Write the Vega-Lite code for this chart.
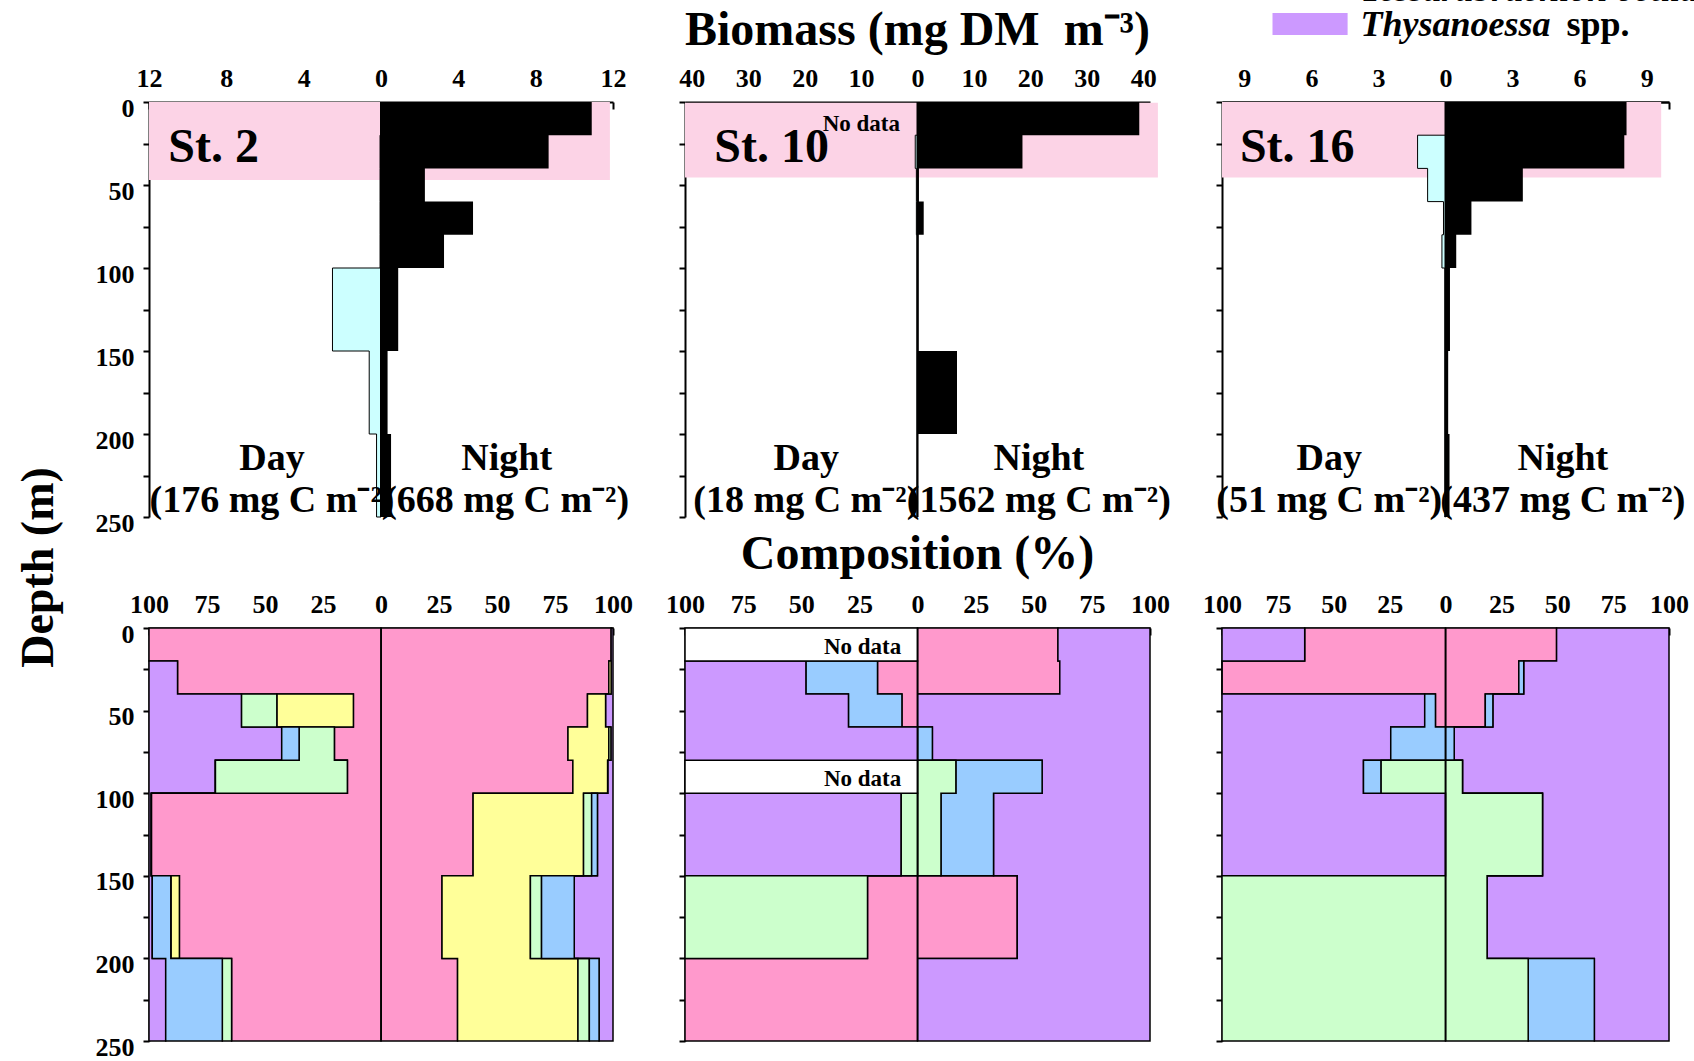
{
"$schema": "https://vega.github.io/schema/vega-lite/v6.json",
"background": "white",
"padding": {"left": 15, "top": -28, "right": 5, "bottom": 5},
"config": {
  "view": {"stroke": null},
  "font": "Liberation Serif",
  "axis": {"labelFont": "Liberation Serif", "labelFontWeight": "bold", "labelFontSize": 26, "labelColor": "black", "domainColor": "black", "domainWidth": 2, "tickColor": "black", "tickWidth": 2, "grid": false, "labelFlush": false, "labelOverlap": false, "labelBound": false, "titleFont": "Liberation Serif", "titleFontWeight": "bold", "titleColor": "black"},
  "axisX": {"tickSize": -7, "labelPadding": 18},
  "axisY": {"tickSize": 6, "labelPadding": 9, "labelOffset": 6},
  "title": {"font": "Liberation Serif", "fontSize": 48, "fontWeight": "bold", "color": "black", "offset": 10, "anchor": "middle"},
  "text": {"font": "Liberation Serif", "fontWeight": "bold", "color": "black"}
},
"datasets": {
  "biomass": [
    {"station": "St. 2", "period": "Night", "top": 0, "bottom": 20, "biomass": 10.9},
    {"station": "St. 2", "period": "Night", "top": 20, "bottom": 40, "biomass": 8.67},
    {"station": "St. 2", "period": "Night", "top": 40, "bottom": 60, "biomass": 2.27},
    {"station": "St. 2", "period": "Night", "top": 60, "bottom": 80, "biomass": 4.76},
    {"station": "St. 2", "period": "Night", "top": 80, "bottom": 100, "biomass": 3.26},
    {"station": "St. 2", "period": "Night", "top": 100, "bottom": 150, "biomass": 0.89},
    {"station": "St. 2", "period": "Night", "top": 150, "bottom": 200, "biomass": 0.34},
    {"station": "St. 2", "period": "Night", "top": 200, "bottom": 250, "biomass": 0.52},
    {"station": "St. 2", "period": "Day", "top": 20, "bottom": 40, "biomass": 0.05},
    {"station": "St. 2", "period": "Day", "top": 40, "bottom": 60, "biomass": 0.05},
    {"station": "St. 2", "period": "Day", "top": 60, "bottom": 80, "biomass": 0.05},
    {"station": "St. 2", "period": "Day", "top": 80, "bottom": 100, "biomass": 0.05},
    {"station": "St. 2", "period": "Day", "top": 100, "bottom": 150, "biomass": 2.51},
    {"station": "St. 2", "period": "Day", "top": 150, "bottom": 200, "biomass": 0.61},
    {"station": "St. 2", "period": "Day", "top": 200, "bottom": 250, "biomass": 0.23},
    {"station": "St. 10", "period": "Night", "top": 0, "bottom": 20, "biomass": 39.3},
    {"station": "St. 10", "period": "Night", "top": 20, "bottom": 40, "biomass": 18.6},
    {"station": "St. 10", "period": "Night", "top": 40, "bottom": 60, "biomass": 0.25},
    {"station": "St. 10", "period": "Night", "top": 60, "bottom": 80, "biomass": 1.1},
    {"station": "St. 10", "period": "Night", "top": 80, "bottom": 100, "biomass": 0.2},
    {"station": "St. 10", "period": "Night", "top": 100, "bottom": 150, "biomass": 0.2},
    {"station": "St. 10", "period": "Night", "top": 150, "bottom": 200, "biomass": 7.0},
    {"station": "St. 10", "period": "Night", "top": 200, "bottom": 250, "biomass": 0.1},
    {"station": "St. 10", "period": "Day", "top": 20, "bottom": 40, "biomass": 0.4},
    {"station": "St. 10", "period": "Day", "top": 40, "bottom": 60, "biomass": 0.2},
    {"station": "St. 10", "period": "Day", "top": 60, "bottom": 80, "biomass": 0.2},
    {"station": "St. 10", "period": "Day", "top": 80, "bottom": 100, "biomass": 0.1},
    {"station": "St. 10", "period": "Day", "top": 100, "bottom": 150, "biomass": 0.1},
    {"station": "St. 10", "period": "Day", "top": 150, "bottom": 200, "biomass": 0.1},
    {"station": "St. 10", "period": "Day", "top": 200, "bottom": 250, "biomass": 0.1},
    {"station": "St. 16", "period": "Night", "top": 0, "bottom": 20, "biomass": 8.1},
    {"station": "St. 16", "period": "Night", "top": 20, "bottom": 40, "biomass": 8.0},
    {"station": "St. 16", "period": "Night", "top": 40, "bottom": 60, "biomass": 3.46},
    {"station": "St. 16", "period": "Night", "top": 60, "bottom": 80, "biomass": 1.16},
    {"station": "St. 16", "period": "Night", "top": 80, "bottom": 100, "biomass": 0.48},
    {"station": "St. 16", "period": "Night", "top": 100, "bottom": 150, "biomass": 0.2},
    {"station": "St. 16", "period": "Night", "top": 150, "bottom": 200, "biomass": 0.12},
    {"station": "St. 16", "period": "Night", "top": 200, "bottom": 250, "biomass": 0.18},
    {"station": "St. 16", "period": "Day", "top": 20, "bottom": 40, "biomass": 1.25},
    {"station": "St. 16", "period": "Day", "top": 40, "bottom": 60, "biomass": 0.8},
    {"station": "St. 16", "period": "Day", "top": 60, "bottom": 80, "biomass": 0.09},
    {"station": "St. 16", "period": "Day", "top": 80, "bottom": 100, "biomass": 0.16},
    {"station": "St. 16", "period": "Day", "top": 100, "bottom": 150, "biomass": 0.03},
    {"station": "St. 16", "period": "Day", "top": 150, "bottom": 200, "biomass": 0.03},
    {"station": "St. 16", "period": "Day", "top": 200, "bottom": 250, "biomass": 0.03}
  ],
  "nodata": [
    {"station": "St. 10", "period": "Day", "panel": "Biomass", "top": 0, "bottom": 20},
    {"station": "St. 10", "period": "Day", "panel": "Composition", "top": 0, "bottom": 20},
    {"station": "St. 10", "period": "Day", "panel": "Composition", "top": 80, "bottom": 100}
  ],
  "comp": [
    {"station": "St. 2", "period": "Day", "top": 0, "bottom": 20, "taxon": "Taxon A", "pct": 100},
    {"station": "St. 2", "period": "Day", "top": 20, "bottom": 40, "taxon": "Taxon A", "pct": 87.7},
    {"station": "St. 2", "period": "Day", "top": 20, "bottom": 40, "taxon": "Thysanoessa spp.", "pct": 12.3},
    {"station": "St. 2", "period": "Day", "top": 40, "bottom": 60, "taxon": "Taxon A", "pct": 11.9},
    {"station": "St. 2", "period": "Day", "top": 40, "bottom": 60, "taxon": "Taxon B", "pct": 33.0},
    {"station": "St. 2", "period": "Day", "top": 40, "bottom": 60, "taxon": "Taxon C", "pct": 15.2},
    {"station": "St. 2", "period": "Day", "top": 40, "bottom": 60, "taxon": "Thysanoessa spp.", "pct": 39.9},
    {"station": "St. 2", "period": "Day", "top": 60, "bottom": 80, "taxon": "Taxon A", "pct": 20.1},
    {"station": "St. 2", "period": "Day", "top": 60, "bottom": 80, "taxon": "Taxon B", "pct": 0},
    {"station": "St. 2", "period": "Day", "top": 60, "bottom": 80, "taxon": "Taxon C", "pct": 15.2},
    {"station": "St. 2", "period": "Day", "top": 60, "bottom": 80, "taxon": "Tessarabrachion oculatum", "pct": 7.5},
    {"station": "St. 2", "period": "Day", "top": 60, "bottom": 80, "taxon": "Thysanoessa spp.", "pct": 57.2},
    {"station": "St. 2", "period": "Day", "top": 80, "bottom": 100, "taxon": "Taxon A", "pct": 14.5},
    {"station": "St. 2", "period": "Day", "top": 80, "bottom": 100, "taxon": "Taxon B", "pct": 0},
    {"station": "St. 2", "period": "Day", "top": 80, "bottom": 100, "taxon": "Taxon C", "pct": 56.9},
    {"station": "St. 2", "period": "Day", "top": 80, "bottom": 100, "taxon": "Tessarabrachion oculatum", "pct": 0},
    {"station": "St. 2", "period": "Day", "top": 80, "bottom": 100, "taxon": "Thysanoessa spp.", "pct": 28.6},
    {"station": "St. 2", "period": "Day", "top": 100, "bottom": 150, "taxon": "Taxon A", "pct": 99},
    {"station": "St. 2", "period": "Day", "top": 100, "bottom": 150, "taxon": "Taxon B", "pct": 0},
    {"station": "St. 2", "period": "Day", "top": 100, "bottom": 150, "taxon": "Taxon C", "pct": 0},
    {"station": "St. 2", "period": "Day", "top": 100, "bottom": 150, "taxon": "Tessarabrachion oculatum", "pct": 0},
    {"station": "St. 2", "period": "Day", "top": 100, "bottom": 150, "taxon": "Thysanoessa spp.", "pct": 1},
    {"station": "St. 2", "period": "Day", "top": 150, "bottom": 200, "taxon": "Taxon A", "pct": 86.9},
    {"station": "St. 2", "period": "Day", "top": 150, "bottom": 200, "taxon": "Taxon B", "pct": 3.7},
    {"station": "St. 2", "period": "Day", "top": 150, "bottom": 200, "taxon": "Taxon C", "pct": 0},
    {"station": "St. 2", "period": "Day", "top": 150, "bottom": 200, "taxon": "Tessarabrachion oculatum", "pct": 8.0},
    {"station": "St. 2", "period": "Day", "top": 150, "bottom": 200, "taxon": "Thysanoessa spp.", "pct": 1.4},
    {"station": "St. 2", "period": "Day", "top": 200, "bottom": 250, "taxon": "Taxon A", "pct": 64.4},
    {"station": "St. 2", "period": "Day", "top": 200, "bottom": 250, "taxon": "Taxon C", "pct": 4.0},
    {"station": "St. 2", "period": "Day", "top": 200, "bottom": 250, "taxon": "Tessarabrachion oculatum", "pct": 24.4},
    {"station": "St. 2", "period": "Day", "top": 200, "bottom": 250, "taxon": "Thysanoessa spp.", "pct": 7.2},
    {"station": "St. 2", "period": "Night", "top": 0, "bottom": 20, "taxon": "Taxon A", "pct": 99.2},
    {"station": "St. 2", "period": "Night", "top": 0, "bottom": 20, "taxon": "Thysanoessa spp.", "pct": 0.8},
    {"station": "St. 2", "period": "Night", "top": 20, "bottom": 40, "taxon": "Taxon A", "pct": 98.2},
    {"station": "St. 2", "period": "Night", "top": 20, "bottom": 40, "taxon": "Taxon B", "pct": 1.0},
    {"station": "St. 2", "period": "Night", "top": 20, "bottom": 40, "taxon": "Thysanoessa spp.", "pct": 0.8},
    {"station": "St. 2", "period": "Night", "top": 40, "bottom": 60, "taxon": "Taxon A", "pct": 89.0},
    {"station": "St. 2", "period": "Night", "top": 40, "bottom": 60, "taxon": "Taxon B", "pct": 7.8},
    {"station": "St. 2", "period": "Night", "top": 40, "bottom": 60, "taxon": "Thysanoessa spp.", "pct": 3.2},
    {"station": "St. 2", "period": "Night", "top": 60, "bottom": 80, "taxon": "Taxon A", "pct": 80.6},
    {"station": "St. 2", "period": "Night", "top": 60, "bottom": 80, "taxon": "Taxon B", "pct": 17.6},
    {"station": "St. 2", "period": "Night", "top": 60, "bottom": 80, "taxon": "Taxon C", "pct": 0.9},
    {"station": "St. 2", "period": "Night", "top": 60, "bottom": 80, "taxon": "Thysanoessa spp.", "pct": 0.9},
    {"station": "St. 2", "period": "Night", "top": 80, "bottom": 100, "taxon": "Taxon A", "pct": 82.7},
    {"station": "St. 2", "period": "Night", "top": 80, "bottom": 100, "taxon": "Taxon B", "pct": 15.0},
    {"station": "St. 2", "period": "Night", "top": 80, "bottom": 100, "taxon": "Taxon C", "pct": 0},
    {"station": "St. 2", "period": "Night", "top": 80, "bottom": 100, "taxon": "Thysanoessa spp.", "pct": 2.3},
    {"station": "St. 2", "period": "Night", "top": 100, "bottom": 150, "taxon": "Taxon A", "pct": 39.7},
    {"station": "St. 2", "period": "Night", "top": 100, "bottom": 150, "taxon": "Taxon B", "pct": 47.6},
    {"station": "St. 2", "period": "Night", "top": 100, "bottom": 150, "taxon": "Taxon C", "pct": 3.5},
    {"station": "St. 2", "period": "Night", "top": 100, "bottom": 150, "taxon": "Tessarabrachion oculatum", "pct": 2.5},
    {"station": "St. 2", "period": "Night", "top": 100, "bottom": 150, "taxon": "Thysanoessa spp.", "pct": 6.7},
    {"station": "St. 2", "period": "Night", "top": 150, "bottom": 200, "taxon": "Taxon A", "pct": 26.3},
    {"station": "St. 2", "period": "Night", "top": 150, "bottom": 200, "taxon": "Taxon B", "pct": 38.1},
    {"station": "St. 2", "period": "Night", "top": 150, "bottom": 200, "taxon": "Taxon C", "pct": 4.8},
    {"station": "St. 2", "period": "Night", "top": 150, "bottom": 200, "taxon": "Tessarabrachion oculatum", "pct": 14.1},
    {"station": "St. 2", "period": "Night", "top": 150, "bottom": 200, "taxon": "Thysanoessa spp.", "pct": 16.7},
    {"station": "St. 2", "period": "Night", "top": 200, "bottom": 250, "taxon": "Taxon A", "pct": 33.0},
    {"station": "St. 2", "period": "Night", "top": 200, "bottom": 250, "taxon": "Taxon B", "pct": 51.9},
    {"station": "St. 2", "period": "Night", "top": 200, "bottom": 250, "taxon": "Taxon C", "pct": 4.9},
    {"station": "St. 2", "period": "Night", "top": 200, "bottom": 250, "taxon": "Tessarabrachion oculatum", "pct": 4.2},
    {"station": "St. 2", "period": "Night", "top": 200, "bottom": 250, "taxon": "Thysanoessa spp.", "pct": 6.0},
    {"station": "St. 10", "period": "Day", "top": 20, "bottom": 40, "taxon": "Taxon A", "pct": 17.2},
    {"station": "St. 10", "period": "Day", "top": 20, "bottom": 40, "taxon": "Tessarabrachion oculatum", "pct": 30.8},
    {"station": "St. 10", "period": "Day", "top": 20, "bottom": 40, "taxon": "Thysanoessa spp.", "pct": 52.0},
    {"station": "St. 10", "period": "Day", "top": 40, "bottom": 60, "taxon": "Taxon A", "pct": 6.7},
    {"station": "St. 10", "period": "Day", "top": 40, "bottom": 60, "taxon": "Tessarabrachion oculatum", "pct": 23.0},
    {"station": "St. 10", "period": "Day", "top": 40, "bottom": 60, "taxon": "Thysanoessa spp.", "pct": 70.3},
    {"station": "St. 10", "period": "Day", "top": 60, "bottom": 80, "taxon": "Taxon A", "pct": 0},
    {"station": "St. 10", "period": "Day", "top": 60, "bottom": 80, "taxon": "Thysanoessa spp.", "pct": 100},
    {"station": "St. 10", "period": "Day", "top": 100, "bottom": 150, "taxon": "Taxon A", "pct": 0},
    {"station": "St. 10", "period": "Day", "top": 100, "bottom": 150, "taxon": "Taxon C", "pct": 7.0},
    {"station": "St. 10", "period": "Day", "top": 100, "bottom": 150, "taxon": "Thysanoessa spp.", "pct": 93.0},
    {"station": "St. 10", "period": "Day", "top": 150, "bottom": 200, "taxon": "Taxon A", "pct": 21.5},
    {"station": "St. 10", "period": "Day", "top": 150, "bottom": 200, "taxon": "Taxon C", "pct": 78.5},
    {"station": "St. 10", "period": "Day", "top": 200, "bottom": 250, "taxon": "Taxon A", "pct": 100},
    {"station": "St. 10", "period": "Night", "top": 0, "bottom": 20, "taxon": "Taxon A", "pct": 60.4},
    {"station": "St. 10", "period": "Night", "top": 0, "bottom": 20, "taxon": "Thysanoessa spp.", "pct": 39.6},
    {"station": "St. 10", "period": "Night", "top": 20, "bottom": 40, "taxon": "Taxon A", "pct": 61.2},
    {"station": "St. 10", "period": "Night", "top": 20, "bottom": 40, "taxon": "Thysanoessa spp.", "pct": 38.8},
    {"station": "St. 10", "period": "Night", "top": 40, "bottom": 60, "taxon": "Taxon A", "pct": 0},
    {"station": "St. 10", "period": "Night", "top": 40, "bottom": 60, "taxon": "Thysanoessa spp.", "pct": 100},
    {"station": "St. 10", "period": "Night", "top": 60, "bottom": 80, "taxon": "Taxon A", "pct": 0},
    {"station": "St. 10", "period": "Night", "top": 60, "bottom": 80, "taxon": "Tessarabrachion oculatum", "pct": 6.4},
    {"station": "St. 10", "period": "Night", "top": 60, "bottom": 80, "taxon": "Thysanoessa spp.", "pct": 93.6},
    {"station": "St. 10", "period": "Night", "top": 80, "bottom": 100, "taxon": "Taxon A", "pct": 0},
    {"station": "St. 10", "period": "Night", "top": 80, "bottom": 100, "taxon": "Taxon C", "pct": 16.5},
    {"station": "St. 10", "period": "Night", "top": 80, "bottom": 100, "taxon": "Tessarabrachion oculatum", "pct": 37.1},
    {"station": "St. 10", "period": "Night", "top": 80, "bottom": 100, "taxon": "Thysanoessa spp.", "pct": 46.4},
    {"station": "St. 10", "period": "Night", "top": 100, "bottom": 150, "taxon": "Taxon A", "pct": 0},
    {"station": "St. 10", "period": "Night", "top": 100, "bottom": 150, "taxon": "Taxon C", "pct": 10.1},
    {"station": "St. 10", "period": "Night", "top": 100, "bottom": 150, "taxon": "Tessarabrachion oculatum", "pct": 22.6},
    {"station": "St. 10", "period": "Night", "top": 100, "bottom": 150, "taxon": "Thysanoessa spp.", "pct": 67.3},
    {"station": "St. 10", "period": "Night", "top": 150, "bottom": 200, "taxon": "Taxon A", "pct": 42.9},
    {"station": "St. 10", "period": "Night", "top": 150, "bottom": 200, "taxon": "Thysanoessa spp.", "pct": 57.1},
    {"station": "St. 10", "period": "Night", "top": 200, "bottom": 250, "taxon": "Thysanoessa spp.", "pct": 100},
    {"station": "St. 16", "period": "Day", "top": 0, "bottom": 20, "taxon": "Taxon A", "pct": 63.0},
    {"station": "St. 16", "period": "Day", "top": 0, "bottom": 20, "taxon": "Thysanoessa spp.", "pct": 37.0},
    {"station": "St. 16", "period": "Day", "top": 20, "bottom": 40, "taxon": "Taxon A", "pct": 100},
    {"station": "St. 16", "period": "Day", "top": 20, "bottom": 40, "taxon": "Thysanoessa spp.", "pct": 0},
    {"station": "St. 16", "period": "Day", "top": 40, "bottom": 60, "taxon": "Taxon A", "pct": 4.5},
    {"station": "St. 16", "period": "Day", "top": 40, "bottom": 60, "taxon": "Tessarabrachion oculatum", "pct": 4.8},
    {"station": "St. 16", "period": "Day", "top": 40, "bottom": 60, "taxon": "Thysanoessa spp.", "pct": 90.7},
    {"station": "St. 16", "period": "Day", "top": 60, "bottom": 80, "taxon": "Tessarabrachion oculatum", "pct": 24.5},
    {"station": "St. 16", "period": "Day", "top": 60, "bottom": 80, "taxon": "Thysanoessa spp.", "pct": 75.5},
    {"station": "St. 16", "period": "Day", "top": 80, "bottom": 100, "taxon": "Taxon C", "pct": 28.8},
    {"station": "St. 16", "period": "Day", "top": 80, "bottom": 100, "taxon": "Tessarabrachion oculatum", "pct": 7.9},
    {"station": "St. 16", "period": "Day", "top": 80, "bottom": 100, "taxon": "Thysanoessa spp.", "pct": 63.3},
    {"station": "St. 16", "period": "Day", "top": 100, "bottom": 150, "taxon": "Taxon C", "pct": 0},
    {"station": "St. 16", "period": "Day", "top": 100, "bottom": 150, "taxon": "Thysanoessa spp.", "pct": 100},
    {"station": "St. 16", "period": "Day", "top": 150, "bottom": 200, "taxon": "Taxon C", "pct": 100},
    {"station": "St. 16", "period": "Day", "top": 200, "bottom": 250, "taxon": "Taxon C", "pct": 100},
    {"station": "St. 16", "period": "Night", "top": 0, "bottom": 20, "taxon": "Taxon A", "pct": 49.7},
    {"station": "St. 16", "period": "Night", "top": 0, "bottom": 20, "taxon": "Thysanoessa spp.", "pct": 50.3},
    {"station": "St. 16", "period": "Night", "top": 20, "bottom": 40, "taxon": "Taxon A", "pct": 32.8},
    {"station": "St. 16", "period": "Night", "top": 20, "bottom": 40, "taxon": "Tessarabrachion oculatum", "pct": 2.2},
    {"station": "St. 16", "period": "Night", "top": 20, "bottom": 40, "taxon": "Thysanoessa spp.", "pct": 65.0},
    {"station": "St. 16", "period": "Night", "top": 40, "bottom": 60, "taxon": "Taxon A", "pct": 17.8},
    {"station": "St. 16", "period": "Night", "top": 40, "bottom": 60, "taxon": "Tessarabrachion oculatum", "pct": 3.4},
    {"station": "St. 16", "period": "Night", "top": 40, "bottom": 60, "taxon": "Thysanoessa spp.", "pct": 78.8},
    {"station": "St. 16", "period": "Night", "top": 60, "bottom": 80, "taxon": "Tessarabrachion oculatum", "pct": 3.9},
    {"station": "St. 16", "period": "Night", "top": 60, "bottom": 80, "taxon": "Thysanoessa spp.", "pct": 96.1},
    {"station": "St. 16", "period": "Night", "top": 80, "bottom": 100, "taxon": "Taxon C", "pct": 7.6},
    {"station": "St. 16", "period": "Night", "top": 80, "bottom": 100, "taxon": "Tessarabrachion oculatum", "pct": 0},
    {"station": "St. 16", "period": "Night", "top": 80, "bottom": 100, "taxon": "Thysanoessa spp.", "pct": 92.4},
    {"station": "St. 16", "period": "Night", "top": 100, "bottom": 150, "taxon": "Taxon C", "pct": 43.4},
    {"station": "St. 16", "period": "Night", "top": 100, "bottom": 150, "taxon": "Tessarabrachion oculatum", "pct": 0},
    {"station": "St. 16", "period": "Night", "top": 100, "bottom": 150, "taxon": "Thysanoessa spp.", "pct": 56.6},
    {"station": "St. 16", "period": "Night", "top": 150, "bottom": 200, "taxon": "Taxon C", "pct": 18.6},
    {"station": "St. 16", "period": "Night", "top": 150, "bottom": 200, "taxon": "Tessarabrachion oculatum", "pct": 0},
    {"station": "St. 16", "period": "Night", "top": 150, "bottom": 200, "taxon": "Thysanoessa spp.", "pct": 81.4},
    {"station": "St. 16", "period": "Night", "top": 200, "bottom": 250, "taxon": "Taxon C", "pct": 37.0},
    {"station": "St. 16", "period": "Night", "top": 200, "bottom": 250, "taxon": "Tessarabrachion oculatum", "pct": 29.6},
    {"station": "St. 16", "period": "Night", "top": 200, "bottom": 250, "taxon": "Thysanoessa spp.", "pct": 33.4}
  ]
},
"columns": 3,
"spacing": {"row": 111, "column": 72},
"bounds": "flush",
"concat": [
  {
    "width": 464, "height": 415,
    "resolve": {"scale": {"x": "independent"}},
    "layer": [
      {"layer": [
        {"data": {"values": [{}]}, "mark": {"type": "rect", "color": "#fcd3e6"},
         "encoding": {
           "x": {"datum": -12, "type": "quantitative", "scale": {"domain": [-12, 12], "nice": false, "zero": false},
                 "axis": {"orient": "top", "values": [-12,-10,-8,-6,-4,-2,0,2,4,6,8,10,12], "labelExpr": "datum.value % 4 === 0 ? format(abs(datum.value), 'd') : ''", "labelOverlap": false, "title": null}},
           "x2": {"datum": 11.84},
           "y": {"datum": 0, "type": "quantitative", "scale": {"domain": [0, 250], "reverse": true, "nice": false, "zero": false},
                 "axis": {"values": [0,25,50,75,100,125,150,175,200,225,250], "labelExpr": "datum.value % 50 === 0 ? datum.label : ''", "labelOverlap": false, "title": "Depth (m)", "titleFontSize": 46, "titleX": -133, "titleY": 465, "titleAngle": -90, "titleAlign": "center", "titleBaseline": "top"}},
           "y2": {"datum": 47}}},
        {"data": {"name": "biomass"}, "transform": [{"filter": "datum.station === 'St. 2' && datum.period === 'Night'"}, {"fold": ["top", "bottom"], "as": ["edge", "depth"]}],
         "mark": {"type": "area", "orient": "horizontal", "color": "black"},
         "encoding": {"x": {"field": "biomass", "type": "quantitative", "title": null}, "x2": {"datum": 0}, "y": {"field": "depth", "type": "quantitative", "title": "Depth (m)"}, "order": [{"field": "top", "type": "quantitative"}, {"field": "depth", "type": "quantitative"}]}},
        {"data": {"values": [{}]}, "mark": {"type": "text", "text": "St. 2", "align": "left", "baseline": "alphabetic", "fontSize": 48},
         "encoding": {"x": {"datum": -11, "type": "quantitative"}, "y": {"datum": 36, "type": "quantitative"}}},
        {"data": {"values": [{}]}, "mark": {"type": "text", "text": ["Night", "(668 mg C m⁻²)"], "align": "center", "baseline": "alphabetic", "lineHeight": 42, "fontSize": 38},
         "encoding": {"x": {"datum": 6.5, "type": "quantitative"}, "y": {"datum": 221.7, "type": "quantitative"}}}
      ]},
      {"layer": [
        {"data": {"name": "biomass"}, "transform": [{"filter": "datum.station === 'St. 2' && datum.period === 'Day'"}, {"fold": ["top", "bottom"], "as": ["edge", "depth"]}],
         "mark": {"type": "area", "orient": "horizontal", "fill": "#ccffff", "stroke": "black", "strokeWidth": 1},
         "encoding": {"x": {"field": "biomass", "type": "quantitative", "title": null, "scale": {"domain": [-12, 12], "reverse": true, "nice": false, "zero": false}, "axis": null}, "x2": {"datum": 0}, "y": {"field": "depth", "type": "quantitative", "title": "Depth (m)"}, "order": [{"field": "top", "type": "quantitative"}, {"field": "depth", "type": "quantitative"}]}},
        {"data": {"values": [{}]}, "mark": {"type": "text", "text": ["Day", "(176 mg C m⁻²)"], "align": "center", "baseline": "alphabetic", "lineHeight": 42, "fontSize": 38},
         "encoding": {"x": {"datum": 5.64, "type": "quantitative"}, "y": {"datum": 221.7, "type": "quantitative"}}},
        {"data": {"values": [{}]}, "mark": {"type": "rule", "color": "black", "strokeWidth": 2},
         "encoding": {"x": {"datum": 0, "type": "quantitative"}, "y": {"datum": 0, "type": "quantitative"}, "y2": {"datum": 250}}}
      ]}
    ]
  },
  {
    "width": 465, "height": 415,
    "title": {"text": "Biomass (mg DM\u00a0 m⁻³)", "offset": 10},
    "resolve": {"scale": {"x": "independent"}},
    "layer": [
      {"layer": [
        {"data": {"values": [{}]}, "mark": {"type": "rect", "color": "#fcd3e6"},
         "encoding": {
           "x": {"datum": -41.2, "type": "quantitative", "scale": {"domain": [-41.2, 41.2], "nice": false, "zero": false},
                 "axis": {"orient": "top", "values": [-40,-35,-30,-25,-20,-15,-10,-5,0,5,10,15,20,25,30,35,40], "labelExpr": "datum.value % 10 === 0 ? format(abs(datum.value), 'd') : ''", "labelOverlap": false, "title": null}},
           "x2": {"datum": 42.6},
           "y": {"datum": 0.5, "type": "quantitative", "scale": {"domain": [0, 250], "reverse": true, "nice": false, "zero": false},
                 "axis": {"values": [0,25,50,75,100,125,150,175,200,225,250], "labels": false, "title": null}},
           "y2": {"datum": 45.5}}},
        {"data": {"name": "biomass"}, "transform": [{"filter": "datum.station === 'St. 10' && datum.period === 'Night'"}, {"fold": ["top", "bottom"], "as": ["edge", "depth"]}],
         "mark": {"type": "area", "orient": "horizontal", "color": "black"},
         "encoding": {"x": {"field": "biomass", "type": "quantitative", "title": null}, "x2": {"datum": 0}, "y": {"field": "depth", "type": "quantitative", "title": null}, "order": [{"field": "top", "type": "quantitative"}, {"field": "depth", "type": "quantitative"}]}},
        {"data": {"values": [{}]}, "mark": {"type": "text", "text": "St. 10", "align": "left", "baseline": "alphabetic", "fontSize": 48},
         "encoding": {"x": {"datum": -36, "type": "quantitative"}, "y": {"datum": 36, "type": "quantitative"}}},
        {"data": {"values": [{}]}, "mark": {"type": "text", "text": ["Night", "(1562 mg C m⁻²)"], "align": "center", "baseline": "alphabetic", "lineHeight": 42, "fontSize": 38},
         "encoding": {"x": {"datum": 21.5, "type": "quantitative"}, "y": {"datum": 221.7, "type": "quantitative"}}}
      ]},
      {"layer": [
        {"data": {"name": "biomass"}, "transform": [{"filter": "datum.station === 'St. 10' && datum.period === 'Day'"}, {"fold": ["top", "bottom"], "as": ["edge", "depth"]}],
         "mark": {"type": "area", "orient": "horizontal", "fill": "#ccffff", "stroke": "black", "strokeWidth": 1},
         "encoding": {"x": {"field": "biomass", "type": "quantitative", "title": null, "scale": {"domain": [-41.2, 41.2], "reverse": true, "nice": false, "zero": false}, "axis": null}, "x2": {"datum": 0}, "y": {"field": "depth", "type": "quantitative", "title": null}, "order": [{"field": "top", "type": "quantitative"}, {"field": "depth", "type": "quantitative"}]}},
        {"data": {"name": "nodata"}, "transform": [{"filter": "datum.panel === 'Biomass'"}],
         "mark": {"type": "text", "text": "No data", "align": "right", "baseline": "middle", "fontSize": 23, "dy": 22},
         "encoding": {"x": {"datum": 3.1, "type": "quantitative"}, "y": {"field": "top", "type": "quantitative", "title": null}}},
        {"data": {"values": [{}]}, "mark": {"type": "text", "text": ["Day", "(18 mg C m⁻²)"], "align": "center", "baseline": "alphabetic", "lineHeight": 42, "fontSize": 38},
         "encoding": {"x": {"datum": 19.7, "type": "quantitative"}, "y": {"datum": 221.7, "type": "quantitative"}}},
        {"data": {"values": [{}]}, "mark": {"type": "rule", "color": "black", "strokeWidth": 2},
         "encoding": {"x": {"datum": 0, "type": "quantitative"}, "y": {"datum": 0, "type": "quantitative"}, "y2": {"datum": 250}}}
      ]}
    ]
  },
  {
    "width": 447, "height": 415,
    "resolve": {"scale": {"x": "independent"}},
    "layer": [
      {"layer": [
        {"data": {"values": [{}]}, "mark": {"type": "rect", "color": "#fcd3e6"},
         "encoding": {
           "x": {"datum": -10, "type": "quantitative", "scale": {"domain": [-10, 10], "nice": false, "zero": false},
                 "axis": {"orient": "top", "values": [-9,-6,-3,0,3,6,9], "labelExpr": "format(abs(datum.value), 'd')", "labelOverlap": false, "title": null}},
           "x2": {"datum": 9.65},
           "y": {"datum": 0, "type": "quantitative", "scale": {"domain": [0, 250], "reverse": true, "nice": false, "zero": false},
                 "axis": {"values": [0,25,50,75,100,125,150,175,200,225,250], "labels": false, "title": null}},
           "y2": {"datum": 45.5}}},
        {"data": {"name": "biomass"}, "transform": [{"filter": "datum.station === 'St. 16' && datum.period === 'Night'"}, {"fold": ["top", "bottom"], "as": ["edge", "depth"]}],
         "mark": {"type": "area", "orient": "horizontal", "color": "black"},
         "encoding": {"x": {"field": "biomass", "type": "quantitative", "title": null}, "x2": {"datum": 0}, "y": {"field": "depth", "type": "quantitative", "title": null}, "order": [{"field": "top", "type": "quantitative"}, {"field": "depth", "type": "quantitative"}]}},
        {"data": {"values": [{}]}, "mark": {"type": "text", "text": "St. 16", "align": "left", "baseline": "alphabetic", "fontSize": 48},
         "encoding": {"x": {"datum": -9.2, "type": "quantitative"}, "y": {"datum": 36, "type": "quantitative"}}},
        {"data": {"values": [{}]}, "mark": {"type": "text", "text": ["Night", "(437 mg C m⁻²)"], "align": "center", "baseline": "alphabetic", "lineHeight": 42, "fontSize": 38},
         "encoding": {"x": {"datum": 5.25, "type": "quantitative"}, "y": {"datum": 221.7, "type": "quantitative"}}},
        {"data": {"values": [{}]}, "mark": {"type": "rect", "color": "#cc99ff"},
         "encoding": {"x": {"datum": -7.74, "type": "quantitative"}, "x2": {"datum": -4.38}, "y": {"datum": -53.6, "type": "quantitative"}, "y2": {"datum": -40.4}}},
        {"data": {"values": [{}]}, "mark": {"type": "text", "text": "Thysanoessa", "align": "left", "baseline": "alphabetic", "fontSize": 36, "fontStyle": "italic"},
         "encoding": {"x": {"datum": -3.8, "type": "quantitative"}, "y": {"datum": -39.8, "type": "quantitative"}}},
        {"data": {"values": [{}]}, "mark": {"type": "text", "text": "spp.", "align": "left", "baseline": "alphabetic", "fontSize": 36},
         "encoding": {"x": {"datum": 5.41, "type": "quantitative"}, "y": {"datum": -39.8, "type": "quantitative"}}},
        {"data": {"values": [{}]}, "mark": {"type": "text", "text": "Tessarabrachion oculatum", "align": "left", "baseline": "alphabetic", "fontSize": 36, "fontStyle": "italic"},
         "encoding": {"x": {"datum": -3.8, "type": "quantitative"}, "y": {"datum": -60.8, "type": "quantitative"}}}
      ]},
      {"layer": [
        {"data": {"name": "biomass"}, "transform": [{"filter": "datum.station === 'St. 16' && datum.period === 'Day'"}, {"fold": ["top", "bottom"], "as": ["edge", "depth"]}],
         "mark": {"type": "area", "orient": "horizontal", "fill": "#ccffff", "stroke": "black", "strokeWidth": 1},
         "encoding": {"x": {"field": "biomass", "type": "quantitative", "title": null, "scale": {"domain": [-10, 10], "reverse": true, "nice": false, "zero": false},
                            "axis": {"orient": "top", "values": [-10,-8,-7,-5,-4,-2,-1,1,2,4,5,7,8,10], "labels": false, "title": null}},
                      "x2": {"datum": 0}, "y": {"field": "depth", "type": "quantitative", "title": null}, "order": [{"field": "top", "type": "quantitative"}, {"field": "depth", "type": "quantitative"}]}},
        {"data": {"values": [{}]}, "mark": {"type": "text", "text": ["Day", "(51 mg C m⁻²)"], "align": "center", "baseline": "alphabetic", "lineHeight": 42, "fontSize": 38},
         "encoding": {"x": {"datum": 5.2, "type": "quantitative"}, "y": {"datum": 221.7, "type": "quantitative"}}},
        {"data": {"values": [{}]}, "mark": {"type": "rule", "color": "black", "strokeWidth": 2},
         "encoding": {"x": {"datum": 0, "type": "quantitative"}, "y": {"datum": 0, "type": "quantitative"}, "y2": {"datum": 250}}}
      ]}
    ]
  },
  {
    "width": 464, "height": 413,
    "resolve": {"scale": {"x": "independent"}},
    "layer": [
      {"layer": [
        {"data": {"name": "comp"}, "transform": [{"filter": "datum.station === 'St. 2' && datum.period === 'Night'"}, {"stack": "pct", "groupby": ["top"], "sort": [{"field": "taxon", "order": "ascending"}], "as": ["x0", "x1"]}, {"fold": ["top", "bottom"], "as": ["edge", "depth"]}],
         "mark": {"type": "area", "orient": "horizontal", "stroke": "black", "strokeWidth": 1.5},
         "encoding": {
           "x": {"field": "x1", "type": "quantitative", "stack": null, "title": null, "scale": {"domain": [-100, 100], "nice": false, "zero": false},
                 "axis": {"orient": "top", "values": [-100,-90,-80,-75,-70,-60,-50,-40,-30,-25,-20,-10,0,10,20,25,30,40,50,60,70,75,80,90,100], "labelExpr": "datum.value % 25 === 0 ? format(abs(datum.value), 'd') : ''", "labelOverlap": false, "tickOpacity": {"condition": {"test": "datum.value % 10 === 0", "value": 1}, "value": 0}, "title": null}},
           "x2": {"field": "x0"},
           "y": {"field": "depth", "type": "quantitative", "title": null, "scale": {"domain": [0, 250], "reverse": true, "nice": false, "zero": false},
                 "axis": {"values": [0,25,50,75,100,125,150,175,200,225,250], "labelExpr": "datum.value % 50 === 0 ? datum.label : ''", "labelOverlap": false, "title": null}},
           "color": {"field": "taxon", "type": "nominal", "scale": {"domain": ["Taxon A", "Taxon B", "Taxon C", "Tessarabrachion oculatum", "Thysanoessa spp."], "range": ["#ff99cc", "#ffff99", "#ccffcc", "#99ccff", "#cc99ff"]}, "legend": null},
           "order": [{"field": "top", "type": "quantitative"}, {"field": "depth", "type": "quantitative"}]}}
      ]},
      {"layer": [
        {"data": {"name": "comp"}, "transform": [{"filter": "datum.station === 'St. 2' && datum.period === 'Day'"}, {"stack": "pct", "groupby": ["top"], "sort": [{"field": "taxon", "order": "ascending"}], "as": ["x0", "x1"]}, {"fold": ["top", "bottom"], "as": ["edge", "depth"]}],
         "mark": {"type": "area", "orient": "horizontal", "stroke": "black", "strokeWidth": 1.5},
         "encoding": {
           "x": {"field": "x1", "type": "quantitative", "stack": null, "title": null, "scale": {"domain": [-100, 100], "reverse": true, "nice": false, "zero": false}, "axis": null},
           "x2": {"field": "x0"},
           "y": {"field": "depth", "type": "quantitative", "title": null},
           "color": {"field": "taxon", "type": "nominal", "legend": null},
           "order": [{"field": "top", "type": "quantitative"}, {"field": "depth", "type": "quantitative"}]}},
        {"data": {"values": [{}]}, "mark": {"type": "rule", "color": "black", "strokeWidth": 1.5},
         "encoding": {"x": {"datum": 0, "type": "quantitative"}, "y": {"datum": 0, "type": "quantitative"}, "y2": {"datum": 250}}}
      ]}
    ]
  },
  {
    "width": 465, "height": 413,
    "title": {"text": "Composition (%)", "offset": 12},
    "resolve": {"scale": {"x": "independent"}},
    "layer": [
      {"layer": [
        {"data": {"name": "comp"}, "transform": [{"filter": "datum.station === 'St. 10' && datum.period === 'Night'"}, {"stack": "pct", "groupby": ["top"], "sort": [{"field": "taxon", "order": "ascending"}], "as": ["x0", "x1"]}, {"fold": ["top", "bottom"], "as": ["edge", "depth"]}],
         "mark": {"type": "area", "orient": "horizontal", "stroke": "black", "strokeWidth": 1.5},
         "encoding": {
           "x": {"field": "x1", "type": "quantitative", "stack": null, "title": null, "scale": {"domain": [-100, 100], "nice": false, "zero": false},
                 "axis": {"orient": "top", "values": [-100,-90,-80,-75,-70,-60,-50,-40,-30,-25,-20,-10,0,10,20,25,30,40,50,60,70,75,80,90,100], "labelExpr": "datum.value % 25 === 0 ? format(abs(datum.value), 'd') : ''", "labelOverlap": false, "tickOpacity": {"condition": {"test": "datum.value % 10 === 0", "value": 1}, "value": 0}, "title": null}},
           "x2": {"field": "x0"},
           "y": {"field": "depth", "type": "quantitative", "title": null, "scale": {"domain": [0, 250], "reverse": true, "nice": false, "zero": false},
                 "axis": {"values": [0,25,50,75,100,125,150,175,200,225,250], "labels": false, "title": null}},
           "color": {"field": "taxon", "type": "nominal", "scale": {"domain": ["Taxon A", "Taxon B", "Taxon C", "Tessarabrachion oculatum", "Thysanoessa spp."], "range": ["#ff99cc", "#ffff99", "#ccffcc", "#99ccff", "#cc99ff"]}, "legend": null},
           "order": [{"field": "top", "type": "quantitative"}, {"field": "depth", "type": "quantitative"}]}}
      ]},
      {"layer": [
        {"data": {"name": "comp"}, "transform": [{"filter": "datum.station === 'St. 10' && datum.period === 'Day'"}, {"stack": "pct", "groupby": ["top"], "sort": [{"field": "taxon", "order": "ascending"}], "as": ["x0", "x1"]}, {"fold": ["top", "bottom"], "as": ["edge", "depth"]}],
         "mark": {"type": "area", "orient": "horizontal", "stroke": "black", "strokeWidth": 1.5},
         "encoding": {
           "x": {"field": "x1", "type": "quantitative", "stack": null, "title": null, "scale": {"domain": [-100, 100], "reverse": true, "nice": false, "zero": false}, "axis": null},
           "x2": {"field": "x0"},
           "y": {"field": "depth", "type": "quantitative", "title": null},
           "color": {"field": "taxon", "type": "nominal", "legend": null},
           "order": [{"field": "top", "type": "quantitative"}, {"field": "depth", "type": "quantitative"}]}},
        {"data": {"name": "nodata"}, "transform": [{"filter": "datum.panel === 'Composition'"}],
         "mark": {"type": "rect", "fill": "white", "stroke": "black", "strokeWidth": 1.5},
         "encoding": {"x": {"datum": 0, "type": "quantitative"}, "x2": {"datum": 100}, "y": {"field": "top", "type": "quantitative", "title": null}, "y2": {"field": "bottom"}}},
        {"data": {"name": "nodata"}, "transform": [{"filter": "datum.panel === 'Composition'"}],
         "mark": {"type": "text", "text": "No data", "align": "right", "baseline": "middle", "fontSize": 23, "dy": 19},
         "encoding": {"x": {"datum": 7, "type": "quantitative"}, "y": {"field": "top", "type": "quantitative", "title": null}}},
        {"data": {"values": [{}]}, "mark": {"type": "rule", "color": "black", "strokeWidth": 1.5},
         "encoding": {"x": {"datum": 0, "type": "quantitative"}, "y": {"datum": 0, "type": "quantitative"}, "y2": {"datum": 250}}}
      ]}
    ]
  },
  {
    "width": 447, "height": 413,
    "resolve": {"scale": {"x": "independent"}},
    "layer": [
      {"layer": [
        {"data": {"name": "comp"}, "transform": [{"filter": "datum.station === 'St. 16' && datum.period === 'Night'"}, {"stack": "pct", "groupby": ["top"], "sort": [{"field": "taxon", "order": "ascending"}], "as": ["x0", "x1"]}, {"fold": ["top", "bottom"], "as": ["edge", "depth"]}],
         "mark": {"type": "area", "orient": "horizontal", "stroke": "black", "strokeWidth": 1.5},
         "encoding": {
           "x": {"field": "x1", "type": "quantitative", "stack": null, "title": null, "scale": {"domain": [-100, 100], "nice": false, "zero": false},
                 "axis": {"orient": "top", "values": [-100,-90,-80,-75,-70,-60,-50,-40,-30,-25,-20,-10,0,10,20,25,30,40,50,60,70,75,80,90,100], "labelExpr": "datum.value % 25 === 0 ? format(abs(datum.value), 'd') : ''", "labelOverlap": false, "tickOpacity": {"condition": {"test": "datum.value % 10 === 0", "value": 1}, "value": 0}, "title": null}},
           "x2": {"field": "x0"},
           "y": {"field": "depth", "type": "quantitative", "title": null, "scale": {"domain": [0, 250], "reverse": true, "nice": false, "zero": false},
                 "axis": {"values": [0,25,50,75,100,125,150,175,200,225,250], "labels": false, "title": null}},
           "color": {"field": "taxon", "type": "nominal", "scale": {"domain": ["Taxon A", "Taxon B", "Taxon C", "Tessarabrachion oculatum", "Thysanoessa spp."], "range": ["#ff99cc", "#ffff99", "#ccffcc", "#99ccff", "#cc99ff"]}, "legend": null},
           "order": [{"field": "top", "type": "quantitative"}, {"field": "depth", "type": "quantitative"}]}}
      ]},
      {"layer": [
        {"data": {"name": "comp"}, "transform": [{"filter": "datum.station === 'St. 16' && datum.period === 'Day'"}, {"stack": "pct", "groupby": ["top"], "sort": [{"field": "taxon", "order": "ascending"}], "as": ["x0", "x1"]}, {"fold": ["top", "bottom"], "as": ["edge", "depth"]}],
         "mark": {"type": "area", "orient": "horizontal", "stroke": "black", "strokeWidth": 1.5},
         "encoding": {
           "x": {"field": "x1", "type": "quantitative", "stack": null, "title": null, "scale": {"domain": [-100, 100], "reverse": true, "nice": false, "zero": false}, "axis": null},
           "x2": {"field": "x0"},
           "y": {"field": "depth", "type": "quantitative", "title": null},
           "color": {"field": "taxon", "type": "nominal", "legend": null},
           "order": [{"field": "top", "type": "quantitative"}, {"field": "depth", "type": "quantitative"}]}},
        {"data": {"values": [{}]}, "mark": {"type": "rule", "color": "black", "strokeWidth": 1.5},
         "encoding": {"x": {"datum": 0, "type": "quantitative"}, "y": {"datum": 0, "type": "quantitative"}, "y2": {"datum": 250}}}
      ]}
    ]
  }
]
}
